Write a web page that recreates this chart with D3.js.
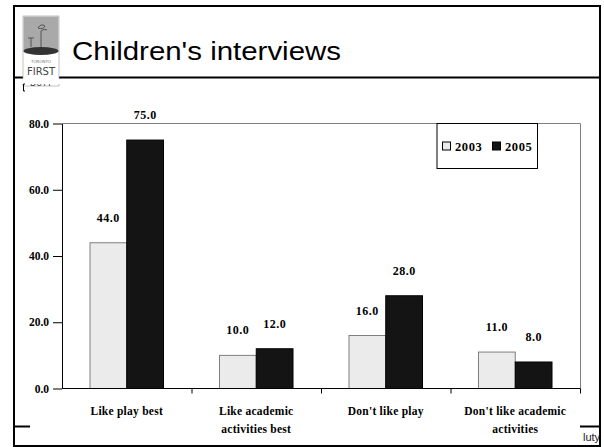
<!DOCTYPE html>
<html>
<head>
<meta charset="utf-8">
<script src="https://cdn.jsdelivr.net/npm/d3@7"></script>
<style>
html,body{margin:0;padding:0;background:#fff;}
svg{display:block;}
</style>
</head>
<body>
<svg id="chart" width="604" height="447"></svg>
<script>
const title = "Children's interviews";
const categories = [["Like play best"], ["Like academic", "activities best"], ["Don't like play"], ["Don't like academic", "activities"]];
const seriesNames = ["2003", "2005"];
const values2003 = [44.0, 10.0, 16.0, 11.0];
const values2005 = [75.0, 12.0, 28.0, 8.0];
const yTicks = [0, 20, 40, 60, 80];
const footer = "luty";

const seriesValues = [values2003, values2005];
const fills = ["#ebebeb", "#141414"];
const strokes = ["#7f7f7f", "#000000"];
const serif = "'Palatino Linotype','Book Antiqua',Palatino,'Liberation Serif',serif";

const svg = d3.select("#chart");

// slide frame
svg.append("rect").attr("x", 0).attr("y", 0).attr("width", 604).attr("height", 447).attr("fill", "#fff");
svg.append("line").attr("x1", 13).attr("x2", 601).attr("y1", 77.5).attr("y2", 77.5).attr("stroke", "#000").attr("stroke-width", 2);
svg.append("line").attr("x1", 14).attr("x2", 30).attr("y1", 426.5).attr("y2", 426.5).attr("stroke", "#000").attr("stroke-width", 2);
svg.append("line").attr("x1", 580).attr("x2", 601).attr("y1", 426.5).attr("y2", 426.5).attr("stroke", "#000").attr("stroke-width", 2);
svg.append("text").attr("x", 583).attr("y", 441).attr("font-family", "Arial, 'Liberation Sans', sans-serif")
  .attr("font-size", 11).attr("fill", "#222").text(footer);

// logo
const logo = svg.append("g");
logo.append("rect").attr("x", 23).attr("y", 16).attr("width", 36).attr("height", 70).attr("fill", "#fff").attr("stroke", "#999").attr("stroke-width", 0.6);
logo.append("rect").attr("x", 23.5).attr("y", 16.5).attr("width", 35).attr("height", 35).attr("fill", "#a9a9a9");
logo.append("ellipse").attr("cx", 41).attr("cy", 51).attr("rx", 17.5).attr("ry", 4).attr("fill", "#333");
logo.append("path").attr("d", "M41,47 L41,31 M31,47 L31,38 M28,38 L34,38 M38,28 q3,-5 7,-2 q-2,4 -7,2 M41,31 q3,-3 6,-1")
  .attr("stroke", "#555").attr("stroke-width", 1).attr("fill", "none");
logo.append("text").attr("x", 41).attr("y", 63).attr("text-anchor", "middle").attr("font-size", 4).attr("font-family", "sans-serif").attr("fill", "#666").text("TORONTO");
logo.append("text").attr("x", 41).attr("y", 75).attr("text-anchor", "middle").attr("font-size", 10).attr("font-family", "'DejaVu Sans', sans-serif").attr("fill", "#444").text("FIRST");
logo.append("text").attr("x", 41).attr("y", 86).attr("text-anchor", "middle").attr("font-size", 8).attr("font-family", "'DejaVu Sans', sans-serif").attr("fill", "#444").text("DUTY");
svg.append("rect").attr("x", 15).attr("y", 79).attr("width", 50).attr("height", 5).attr("fill", "#fff");
svg.append("path").attr("d", "M25,84 L23.5,84 L23.5,91 L25,91").attr("stroke", "#000").attr("fill", "none").attr("stroke-width", 1);

svg.append("text").attr("x", 72).attr("y", 60).attr("font-family", "Arial, 'Liberation Sans', sans-serif")
  .attr("font-size", 25).attr("fill", "#000").attr("textLength", 269).attr("lengthAdjust", "spacingAndGlyphs").text(title);

// chart white area
svg.append("rect").attr("x", 30).attr("y", 92).attr("width", 550).attr("height", 352).attr("fill", "#fff");

const x0 = d3.scaleBand().domain(d3.range(categories.length)).range([62, 580]).paddingInner(0).paddingOuter(0);
const inner = 0.2162;
const x1 = d3.scaleBand().domain(d3.range(seriesNames.length)).range([x0.bandwidth() * inner, x0.bandwidth() * (1 - inner)]).padding(0);
const y = d3.scaleLinear().domain([0, 80]).range([388.5, 123.5]);

// plot border (top, right)
svg.append("path").attr("d", `M62,${y(80)} L580.5,${y(80)} L580.5,${y(0)}`).attr("fill", "none").attr("stroke", "#7f7f7f").attr("stroke-width", 1);

// bars
const groups = svg.append("g").selectAll("g").data(categories).join("g")
  .attr("transform", (d, i) => `translate(${x0(i)},0)`);
groups.each(function(c, i) {
  const g = d3.select(this);
  seriesValues.forEach((vals, s) => {
    g.append("rect").attr("x", x1(s)).attr("y", y(vals[i])).attr("width", x1.bandwidth()).attr("height", y(0) - y(vals[i]))
      .attr("fill", fills[s]).attr("stroke", strokes[s]).attr("stroke-width", 1);
    g.append("text").attr("x", x1(s) + x1.bandwidth() / 2).attr("y", y(vals[i]) - 21)
      .attr("text-anchor", "middle").attr("font-family", serif).attr("font-weight", "bold").attr("font-size", 12)
      .attr("letter-spacing", 0.5)
      .text(vals[i].toFixed(1));
  });
});

// y axis
const yAxis = d3.axisLeft(y).tickValues(yTicks).tickSize(9).tickSizeOuter(0).tickFormat(d => d.toFixed(1));
const ya = svg.append("g").attr("transform", "translate(62,0)").call(yAxis);
ya.selectAll("line, path").attr("stroke", "#000");
ya.selectAll("text").attr("font-family", serif).attr("font-weight", "bold").attr("font-size", 11.5).attr("fill", "#000").attr("x", -13);

// x axis
const xa = svg.append("g").attr("transform", `translate(0,${y(0)})`);
xa.append("line").attr("x1", 62).attr("x2", 580.5).attr("stroke", "#000");
const tickPos = d3.range(categories.length + 1).map(i => i < categories.length ? x0(i) : x0(i - 1) + x0.bandwidth());
xa.selectAll("line.t").data(tickPos.slice(1)).join("line").attr("class", "t")
  .attr("x1", d => d + 0.5).attr("x2", d => d + 0.5).attr("y1", 0).attr("y2", 5).attr("stroke", "#000");
xa.selectAll("text").data(categories).join("text")
  .attr("text-anchor", "middle").attr("font-family", serif).attr("font-weight", "bold").attr("font-size", 11.5)
  .attr("letter-spacing", 0.25)
  .each(function(lines, i) {
    const t = d3.select(this);
    lines.forEach((l, k) => t.append("tspan").attr("x", x0(i) + x0.bandwidth() / 2).attr("y", 26 + k * 18).text(l));
  });

// legend
const lg = svg.append("g");
lg.append("rect").attr("x", 437).attr("y", 123.5).attr("width", 100.5).attr("height", 45).attr("fill", "#fff").attr("stroke", "#000").attr("stroke-width", 1);
const legX = [442, 492];
seriesNames.forEach((n, s) => {
  lg.append("rect").attr("x", legX[s] + 0.5).attr("y", 142).attr("width", 8).attr("height", 8)
    .attr("fill", fills[s]).attr("stroke", "#000").attr("stroke-width", 1);
  lg.append("text").attr("x", legX[s] + 13).attr("y", 150.5).attr("font-family", serif).attr("font-weight", "bold").attr("font-size", 12.5)
    .attr("letter-spacing", 0.6).text(n);
});

// outer frame
svg.append("rect").attr("x", 14).attr("y", 6).attr("width", 586).attr("height", 440).attr("fill", "none").attr("stroke", "#000").attr("stroke-width", 2);
</script>
</body>
</html>
